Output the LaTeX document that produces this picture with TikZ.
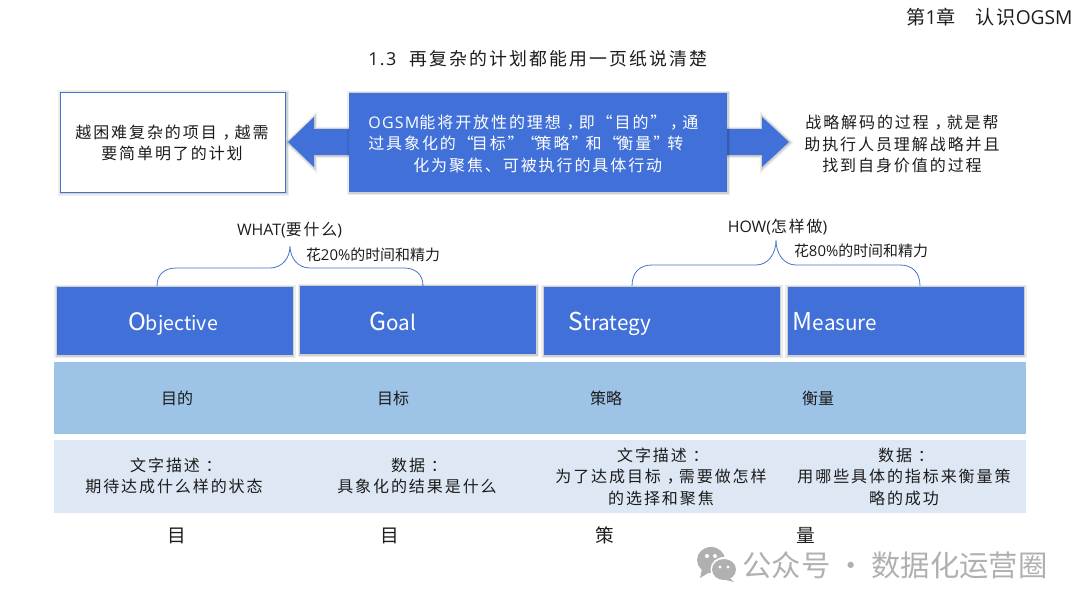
\documentclass[tikz,border=0pt]{standalone}
\usepackage{fontspec}
\setmainfont{Noto Sans CJK SC}
\newfontfamily\spaced[LetterSpace=12]{Noto Sans CJK SC}
\newfontfamily\lat{Open Sans}
\newfontfamily\latsp[LetterSpace=8]{Open Sans}
\usepackage{tikz}
\definecolor{ogblue}{HTML}{4070D8}
\definecolor{ogline}{HTML}{4472C4}
\definecolor{ogband}{HTML}{9DC3E6}
\definecolor{ogpale}{HTML}{DEE8F5}
\definecolor{ogink}{HTML}{1C1C1C}
\definecolor{oggrey}{HTML}{B0B0B0}
\newcommand{\cma}{\makebox[1.12em][c]{\kern.3em，\kern-.3em}}
\newcommand{\cln}{\makebox[1.12em][c]{\kern.3em：\kern-.3em}}
\newcommand{\tq}{\kern-1.5pt}

\begin{document}
\begin{tikzpicture}[x=0.75pt, y=-0.75pt,
  softshade/.style={preaction={draw=black, opacity=0.07, line width=4pt, transform canvas={shift={(0.4pt,-0.4pt)}}},
                    preaction={draw=black, opacity=0.12, line width=2pt, transform canvas={shift={(0.4pt,-0.4pt)}}}},
  head/.style={fill=ogblue, draw=none, inner sep=0pt, minimum width=177pt,
               minimum height=51pt, softshade},
  band/.style={draw=none, inner sep=0pt, minimum width=729pt},
  body/.style={ogink, align=center, font=\fontsize{12}{16.1}\spaced, inner sep=0pt},
  cell/.style={ogink, font=\fontsize{12}{16}\selectfont, inner sep=0pt},
  word/.style={white, anchor=base, font=\fontsize{15.5}{18}\selectfont, inner sep=0pt},
  single/.style={ogink, font=\fontsize{14}{16}\selectfont, inner sep=0pt},
  note/.style={ogink, font=\fontsize{11.2}{14}\selectfont, inner sep=0pt},
  brace/.style={draw=ogline, line width=0.6pt},
]
\useasboundingbox (0,0) rectangle (1080,608);

% Page heading
\node[ogink, font=\fontsize{14.4}{16}\spaced, inner sep=0pt] (chapter) at (989.5, 17) {第{\lat 1}章\hspace{1em}认识{\lat OGSM}};
\node[ogink, font=\fontsize{13.4}{16}\spaced, inner sep=0pt] (title) at (538, 59) {{\latsp 1.3}\hspace{10pt}再复杂的计划都能用一页纸说清楚};

% Double arrow behind the centre box
\path[fill=ogblue, softshade] (288, 142) -- (314, 117) -- (314, 129) -- (762, 129) -- (762, 117)
  -- (789, 142) -- (762, 167) -- (762, 155) -- (314, 155) -- (314, 167) -- cycle;

% Top boxes
\node[draw=ogline, line width=1.1pt, fill=white, minimum width=169pt, minimum height=75pt,
      inner sep=0pt, softshade] (hard) at (173, 142.5) {};
\node[body] (hardtext) at (172, 143) {越困难复杂的项目\cma 越需\\要简单明了的计划};
\node[fill=ogblue, draw=none, minimum width=283pt, minimum height=74.5pt, inner sep=0pt, softshade]
  (ogsm) at (538, 142.5) {};
\node[body, white, align=left, anchor=west] (ogsmtext) at (368, 143.5) {{\latsp OGSM}能将开放性的理想\cma 即“目的”\tq\cma 通\\过具象化的“\tq 目标”\tq“\tq 策略”\tq 和“\tq 衡量”\tq 转\\\hspace*{33.75pt}化为聚焦、可被执行的具体行动};
\node[body] (decode) at (902, 144) {战略解码的过程\cma 就是帮\\助执行人员理解战略并且\\找到自身价值的过程};

% Braces
\coordinate (whatl) at (157, 286);
\coordinate (whatm) at (290, 246);
\coordinate (whatr) at (423, 286);
\coordinate (howl) at (632, 286);
\coordinate (howm) at (776, 240);
\coordinate (howr) at (920, 286);
\draw[brace] (whatl) .. controls (157, 274) and (165, 268) .. (176, 268) -- (270, 268)
  .. controls (282, 268) and (290, 258) .. (whatm)
  .. controls (290, 258) and (298, 268) .. (310, 268) -- (404, 268)
  .. controls (415, 268) and (423, 274) .. (whatr);
\draw[brace] (howl) .. controls (632, 272) and (640, 265) .. (652, 265) -- (756, 265)
  .. controls (768, 265) and (776, 254) .. (howm)
  .. controls (776, 254) and (784, 265) .. (796, 265) -- (900, 265)
  .. controls (912, 265) and (920, 272) .. (howr);
\node[note, font=\fontsize{11.9}{14}\selectfont] (what) at (289.5, 230) {{\lat WHAT(}{\spaced 要什么}{\lat )}};
\node[note] (whattime) at (373, 255) {花{\lat 20\%}的时间和精力};
\node[note, font=\fontsize{11.9}{14}\selectfont] (how) at (777.5, 227) {{\lat HOW(}{\spaced 怎样做}{\lat )}};
\node[note] (howtime) at (861, 251) {花{\lat 80\%}的时间和精力};

% Letter boxes
\node[head] (obj) at (174.5, 321) {};
\node[head] (goal) at (418, 320) {};
\node[head] (stra) at (661.5, 321) {};
\node[head] (meas) at (905.5, 321) {};
\node[word, font=\fontsize{14.7}{18}\selectfont] (objword) at (173, 330) {{\fontsize{18}{18}\selectfont O}bjective};
\node[word] (goalword) at (393, 330) {{\fontsize{18.5}{18}\selectfont G}oal};
\node[word] (straword) at (610, 330) {{\fontsize{18.5}{18}\selectfont S}trategy};
\node[word] (measword) at (835, 330) {{\fontsize{18.5}{18}\selectfont M}easure};

% Bands
\node[band, fill=ogband, minimum height=54pt] (names) at (540, 398) {};
\node[band, fill=ogpale, minimum height=54.75pt] (descs) at (540, 476.5) {};

% Names
\node[cell] (nobj) at (177, 398) {目的};
\node[cell] (ngoal) at (393, 398) {目标};
\node[cell] (nstra) at (606, 398) {策略};
\node[cell] (nmeas) at (818, 398) {衡量};

% Descriptions
\node[body] (dobj) at (174, 476) {文字描述\cln\\期待达成什么样的状态};
\node[body] (dgoal) at (417, 476) {数据\cln\\具象化的结果是什么};
\node[body] (dstra) at (661, 476.5) {文字描述\cln\\为了达成目标\cma 需要做怎样\\的选择和聚焦};
\node[body] (dmeas) at (904, 476.5) {数据\cln\\用哪些具体的指标来衡量策\\略的成功};

% Single characters
\node[single] (cobj) at (177, 536) {目};
\node[single] (cgoal) at (390, 536) {目};
\node[single] (cstra) at (605, 535) {策};
\node[single] (cmeas) at (806, 535) {量};

% Watermark
\fill[oggrey] (711, 560) ellipse (14 and 13);
\fill[oggrey] (702, 569) -- (700, 578) -- (710, 572) -- cycle;
\fill[white] (724, 569.5) ellipse (13.5 and 12.5);
\fill[oggrey] (724, 569.5) ellipse (12 and 10.5);
\fill[oggrey] (729, 577) -- (734, 582) -- (722, 579) -- cycle;
\fill[white] (707, 556) circle (2) (715, 556) circle (2) (720, 567) circle (1.7) (728, 567) circle (1.7);
\node[oggrey, font=\fontsize{22}{24}\selectfont, inner sep=0pt] (stamp) at (895, 565) {公众号\hspace{.2em}·\hspace{.2em}数据化运营圈};
\end{tikzpicture}
\end{document}
